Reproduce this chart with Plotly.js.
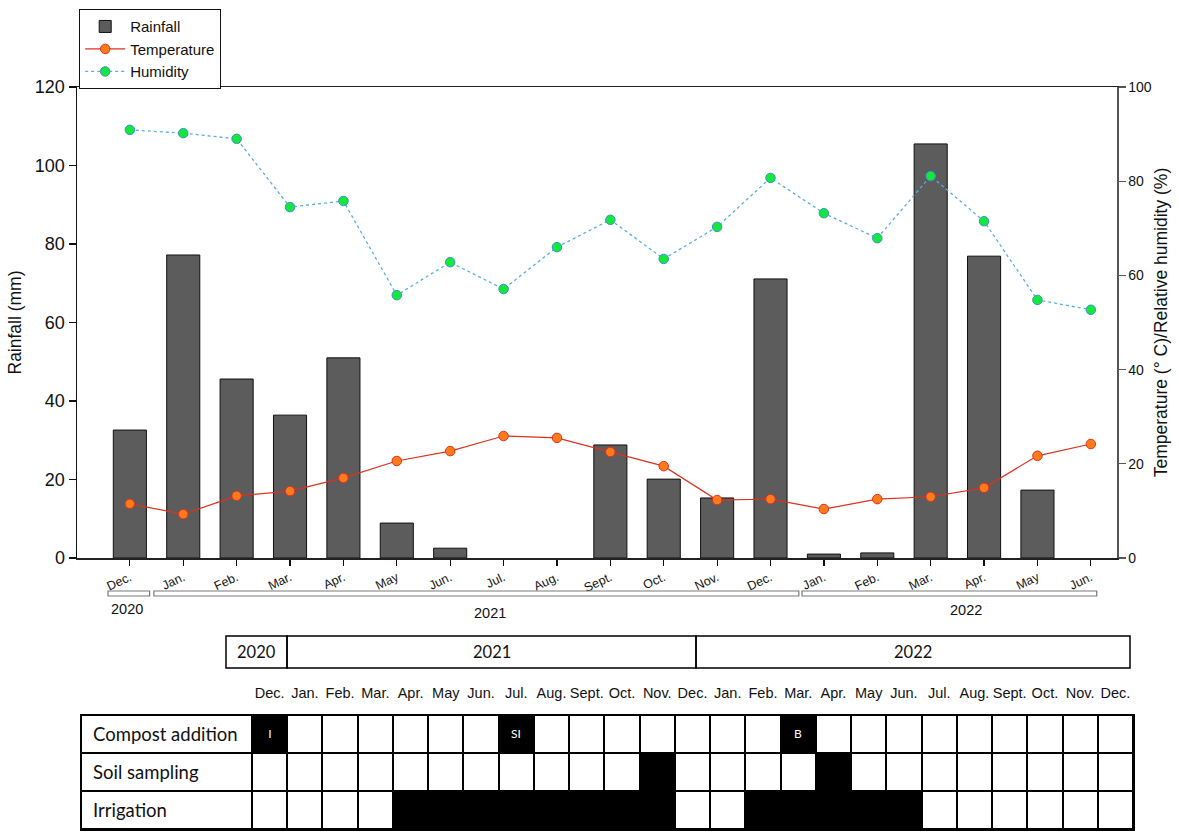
<!DOCTYPE html>
<html>
<head>
<meta charset="utf-8">
<script src="https://cdn.plot.ly/plotly-3.0.1.min.js"></script>
<style>html,body{margin:0;padding:0;background:#fff;}#chart{width:1179px;height:833px;}</style>
</head>
<body>
<div id="chart"></div>
<script>
// ---------------- DATA ----------------
const months = ['Dec.','Jan.','Feb.','Mar.','Apr.','May','Jun.','Jul.','Aug.','Sept.','Oct.','Nov.','Dec.','Jan.','Feb.','Mar.','Apr.','May','Jun.'];
const rainfall = [32.6,77.2,45.6,36.4,51.0,8.9,2.5,0,0,28.8,20.1,15.3,71.1,1.0,1.3,105.5,76.9,17.3,0];
const temperature = [11.5,9.3,13.2,14.2,17.0,20.6,22.7,25.9,25.5,22.5,19.5,12.3,12.5,10.4,12.5,13.0,14.9,21.7,24.2];
const humidity = [90.9,90.2,89.0,74.5,75.8,55.8,62.8,57.1,66.0,71.8,63.5,70.3,80.7,73.2,67.9,81.1,71.5,54.8,52.7];
const years = ['2020','2021','2022'];

const tableMonths = ['Dec.','Jan.','Feb.','Mar.','Apr.','May','Jun.','Jul.','Aug.','Sept.','Oct.','Nov.','Dec.','Jan.','Feb.','Mar.','Apr.','May','Jun.','Jul.','Aug.','Sept.','Oct.','Nov.','Dec.'];
const tableRows = ['Compost addition','Soil sampling','Irrigation'];
const compostAddition = [1,0,0,0,0,0,0,1,0,0,0,0,0,0,0,1,0,0,0,0,0,0,0,0,0];
const compostLabels   = ['I','','','','','','','SI','','','','','','','','B','','','','','','','','',''];
const soilSampling    = [0,0,0,0,0,0,0,0,0,0,0,1,0,0,0,0,1,0,0,0,0,0,0,0,0];
const irrigation      = [0,0,0,0,1,1,1,1,1,1,1,1,0,0,1,1,1,1,1,0,0,0,0,0,0];

// ---------------- LAYOUT HELPERS ----------------
const W = 1179, H = 833;
const px = v => v / W;
const py = v => 1 - v / H;
const AR = 'Arial, "Liberation Sans", sans-serif';
const NARROW = '"Liberation Sans Narrow", "Arial Narrow", "Liberation Sans", Arial, sans-serif';
const TB = 'Lato, Carlito, Calibri, "Open Sans", sans-serif';

const idx = months.map((_, i) => i);
// bracket extents (axis units) and label positions for year groups under the chart
const bracketSpan = [[-0.41, 0.37], [0.45, 12.53], [12.59, 18.11]];
const bracketLabelX = [-0.05, 6.74, 15.66];
const bracketLabelY = [609, 613, 610];
// table header spans (pixels)
const headerEdges = [226, 287, 696, 1130];

// table grid units: 1 unit = one month column
const colPx = (1133 - 252) / 25;
const labelColUnits = (252 - 81) / colPx;
const xEdges = [-labelColUnits].concat(tableMonths.map((_, i) => i)).concat([tableMonths.length]);
const zRows = [compostAddition, soilSampling, irrigation].map(r => [0].concat(r));
const tRows = [compostLabels, soilSampling.map(() => ''), irrigation.map(() => '')].map(r => [''].concat(r));
const baseZ = zRows.map(r => r.map(() => 1));

// ---------------- TRACES ----------------
const traces = [
  {
    type: 'bar', name: 'Rainfall', x: idx, y: rainfall, xaxis: 'x', yaxis: 'y',
    width: 0.62, marker: {color: '#5c5c5c', line: {color: '#111', width: rainfall.map(v => v > 0 ? 1 : 0)}}, hoverinfo: 'y'
  },
  {
    type: 'scatter', mode: 'lines+markers', name: 'Temperature', x: idx, y: temperature, xaxis: 'x', yaxis: 'y2',
    line: {color: '#e0301e', width: 1.2},
    marker: {color: '#ff7a1a', size: 9.5, line: {color: '#e0301e', width: 1}}
  },
  {
    type: 'scatter', mode: 'lines+markers', name: 'Humidity', x: idx, y: humidity, xaxis: 'x', yaxis: 'y2',
    line: {color: '#5aaee0', width: 1.3, dash: 'dot'},
    marker: {color: '#14e83a', size: 9.5, line: {color: '#3a8fd0', width: 1}}
  },
  {
    type: 'heatmap', x: xEdges, y: [0, 1, 2], z: baseZ, xaxis: 'x2', yaxis: 'y3',
    colorscale: [[0, '#000'], [1, '#000']], zmin: 0, zmax: 1, showscale: false, hoverinfo: 'skip', showlegend: false
  },
  {
    type: 'heatmap', x: xEdges, y: [0, 1, 2], z: zRows, text: tRows, texttemplate: '%{text}',
    textfont: {family: TB, size: 12, color: '#fff'},
    xaxis: 'x2', yaxis: 'y3', xgap: 2, ygap: 2,
    colorscale: [[0, '#ffffff'], [1, '#000000']], zmin: 0, zmax: 1, showscale: false, hoverinfo: 'skip', showlegend: false
  }
];

// ---------------- SHAPES & ANNOTATIONS ----------------
const shapes = [];
const annotations = [];
years.forEach((yr, i) => {
  shapes.push({type: 'rect', xref: 'x', yref: 'paper', x0: bracketSpan[i][0], x1: bracketSpan[i][1],
    y0: py(596), y1: py(591), line: {color: '#7a7a7a', width: 1.2}, fillcolor: '#fff'});
  annotations.push({xref: 'x', yref: 'paper', x: bracketLabelX[i], y: py(bracketLabelY[i]), text: yr,
    showarrow: false, xanchor: 'center', yanchor: 'middle', font: {family: AR, size: 14.5, color: '#111'}});
  // table header cells
  shapes.push({type: 'rect', xref: 'paper', yref: 'paper', x0: px(headerEdges[i]), x1: px(headerEdges[i + 1]),
    y0: py(668), y1: py(636), line: {color: '#000', width: 1.5}, fillcolor: 'rgba(0,0,0,0)'});
  annotations.push({xref: 'paper', yref: 'paper', x: px((headerEdges[i] + headerEdges[i + 1]) / 2), y: py(652), text: yr,
    showarrow: false, xanchor: 'center', yanchor: 'middle', font: {family: TB, size: 16.5, color: '#111'}});
});
tableRows.forEach((r, i) => {
  annotations.push({xref: 'x2', yref: 'y3', x: -labelColUnits + 10 / colPx, y: i, text: r,
    showarrow: false, xanchor: 'left', yanchor: 'middle', font: {family: TB, size: 18.5, color: '#111'}});
});

const layout = {
  width: W, height: H,
  margin: {l: 0, r: 0, t: 0, b: 0},
  paper_bgcolor: '#fff', plot_bgcolor: '#fff',
  showlegend: true,
  legend: {x: px(79), y: py(9), xanchor: 'left', yanchor: 'top', bgcolor: '#fff', bordercolor: '#111', borderwidth: 1.2,
    font: {family: AR, size: 15, color: '#111'}, tracegroupgap: 0, itemwidth: 40},
  xaxis: {
    domain: [px(77), px(1117)], range: [-0.99, 18.49], anchor: 'y',
    tickmode: 'array', tickvals: idx, ticktext: months, tickangle: -25,
    tickfont: {family: AR, size: 12.5, color: '#111'},
    ticks: 'outside', ticklen: 6, tickcolor: '#111', tickwidth: 1.2,
    showline: true, linecolor: '#222', linewidth: 1.5, mirror: true,
    showgrid: false, zeroline: false, fixedrange: true
  },
  yaxis: {
    domain: [py(558), py(87)], range: [0, 120], dtick: 20, anchor: 'x',
    ticks: 'outside', ticklen: 7, tickcolor: '#111', tickwidth: 1.2,
    tickfont: {family: AR, size: 18, color: '#111'},
    showline: true, linecolor: '#111', linewidth: 1.5,
    showgrid: false, zeroline: false,
    title: {text: 'Rainfall (mm)', font: {family: AR, size: 17.5, color: '#111'}, standoff: 8}
  },
  yaxis2: {
    overlaying: 'y', side: 'right', anchor: 'x', range: [0, 100], dtick: 20,
    ticks: 'outside', ticklen: 7, tickcolor: '#555', tickwidth: 1.2,
    tickfont: {family: AR, size: 14, color: '#111'},
    showline: true, linecolor: '#555', linewidth: 1.5,
    showgrid: false, zeroline: false,
    title: {text: 'Temperature (° C)/Relative humidity (%)', font: {family: AR, size: 17.5, color: '#111'}, standoff: 4}
  },
  xaxis2: {
    domain: [px(81), px(1133)], range: [-labelColUnits, tableMonths.length], anchor: 'y3', side: 'top',
    tickmode: 'array', tickvals: tableMonths.map((_, i) => i + 0.5), ticktext: tableMonths,
    tickfont: {family: NARROW, size: 14.5, color: '#111'}, ticks: '', ticklabelstandoff: 10,
    showline: true, linecolor: '#000', linewidth: 1.5, mirror: true,
    showgrid: false, zeroline: false, fixedrange: true
  },
  yaxis3: {
    domain: [py(829), py(715)], range: [2.5, -0.5], anchor: 'x2',
    showticklabels: false, ticks: '',
    showline: true, linecolor: '#000', linewidth: 1.5, mirror: true,
    showgrid: false, zeroline: false, fixedrange: true
  },
  shapes: shapes,
  annotations: annotations
};

Plotly.newPlot('chart', traces, layout, {displayModeBar: false, staticPlot: true});
</script>
</body>
</html>
